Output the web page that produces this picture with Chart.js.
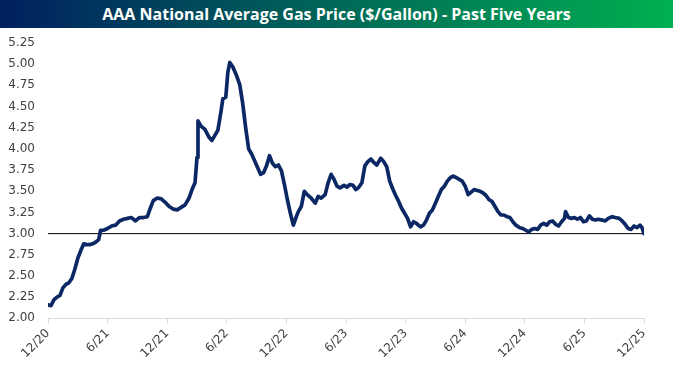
<!DOCTYPE html>
<html>
<head>
<meta charset="utf-8">
<script src="https://cdn.jsdelivr.net/npm/chart.js@4.4.1/dist/chart.umd.min.js"></script>
<style>
    html, body { margin: 0; padding: 0; background: #ffffff; }
    #banner {
        width: 673px;
        height: 28px;
        line-height: 28px;
        background: linear-gradient(to right, #002060 0%, #00b050 100%);
        color: #ffffff;
        text-align: center;
        font-family: "Open Sans", sans-serif;
        font-weight: bold;
        font-size: 16px;
    }
    #wrap { position: relative; width: 673px; height: 348px; }
</style>
</head>
<body>
<div id="banner">AAA National Average Gas Price ($/Gallon) - Past Five Years</div>
<div id="wrap"><canvas id="gasChart"></canvas></div>
<script>
// Meses contados a partir de 12/20
const monthOffset = [
    0, 0.3, 0.6, 0.9, 1.2, 1.5, 1.8, 2.1, 2.4, 2.7, 3.0, 3.3, 3.6, 3.9, 4.2, 4.5, 4.8, 5.1, 5.3, 5.6,
    6.0, 6.4, 6.8, 7.2, 7.6, 8.0, 8.4, 8.8, 9.2, 9.6, 10.0, 10.3, 10.6, 11.0, 11.4, 11.8,
    12.2, 12.6, 13.0, 13.4, 13.8, 14.2, 14.5, 14.8, 15.0, 15.1, 15.4, 15.8, 16.2, 16.5, 16.8, 17.1, 17.4, 17.6, 17.9,
    18.1, 18.3, 18.6, 19.0, 19.3, 19.6, 19.9, 20.2, 20.5, 20.8, 21.1, 21.4, 21.7, 22.0, 22.3, 22.6, 22.9, 23.2, 23.5, 23.8,
    24.1, 24.4, 24.7, 25.0, 25.2, 25.5, 25.8, 26.1, 26.5, 26.9, 27.2, 27.5, 27.9, 28.2, 28.5, 28.8, 29.1, 29.4, 29.8,
    30.1, 30.4, 30.7, 31.0, 31.3, 31.6, 31.9, 32.2, 32.5, 32.8, 33.1, 33.5, 33.8, 34.1, 34.4, 34.7, 35.0, 35.3, 35.6, 35.9,
    36.2, 36.5, 36.8, 37.1, 37.5, 37.8, 38.1, 38.4, 38.7, 39.0, 39.3, 39.6, 39.9, 40.2, 40.5, 40.8, 41.1, 41.4, 41.7,
    42.0, 42.3, 42.6, 42.9, 43.2, 43.5, 43.8, 44.1, 44.4, 44.7, 45.0, 45.3, 45.6, 45.9, 46.2, 46.5, 46.8, 47.1, 47.5, 47.8,
    48.1, 48.4, 48.7, 49.0, 49.3, 49.6, 49.9, 50.2, 50.5, 50.8, 51.1, 51.4, 51.7, 52.0, 52.1, 52.4, 52.7, 53.0, 53.3, 53.6, 53.9,
    54.2, 54.5, 54.8, 55.1, 55.4, 55.8, 56.1, 56.4, 56.8, 57.1, 57.5, 57.8, 58.1, 58.4, 58.7, 59.0, 59.3, 59.6, 59.8, 60.0
];

// Preço médio (US$/galão)
const gasPrice = [
    2.16, 2.15, 2.22, 2.25, 2.27, 2.36, 2.40, 2.42, 2.47, 2.58, 2.71, 2.80, 2.88, 2.87, 2.87, 2.88, 2.90, 2.93, 3.04, 3.04,
    3.06, 3.09, 3.10, 3.15, 3.17, 3.18, 3.19, 3.15, 3.19, 3.19, 3.20, 3.30, 3.39, 3.42, 3.41, 3.37,
    3.32, 3.29, 3.28, 3.31, 3.34, 3.42, 3.52, 3.60, 3.90, 4.33, 4.27, 4.23, 4.14, 4.10, 4.16, 4.22, 4.43, 4.59, 4.61,
    4.90, 5.02, 4.97, 4.86, 4.76, 4.54, 4.25, 4.00, 3.94, 3.86, 3.78, 3.70, 3.72, 3.80, 3.92, 3.83, 3.79, 3.81, 3.74, 3.58,
    3.40, 3.24, 3.10, 3.20, 3.26, 3.32, 3.50, 3.46, 3.42, 3.36, 3.44, 3.42, 3.46, 3.60, 3.70, 3.64, 3.56, 3.54, 3.57,
    3.55, 3.58, 3.57, 3.52, 3.55, 3.60, 3.80, 3.85, 3.88, 3.84, 3.81, 3.89, 3.85, 3.79, 3.62, 3.53, 3.45, 3.38, 3.30, 3.24,
    3.18, 3.08, 3.14, 3.12, 3.08, 3.10, 3.16, 3.24, 3.28, 3.36, 3.44, 3.52, 3.56, 3.62, 3.66, 3.68, 3.66, 3.64, 3.62,
    3.56, 3.46, 3.49, 3.52, 3.51, 3.50, 3.48, 3.45, 3.40, 3.38, 3.32, 3.26, 3.22, 3.22, 3.20, 3.19, 3.14, 3.10, 3.07, 3.06,
    3.04, 3.02, 3.05, 3.06, 3.05, 3.10, 3.12, 3.10, 3.14, 3.15, 3.11, 3.09, 3.14, 3.18, 3.26, 3.19, 3.18, 3.19, 3.17, 3.19, 3.14,
    3.15, 3.21, 3.17, 3.16, 3.17, 3.16, 3.15, 3.18, 3.20, 3.19, 3.18, 3.15, 3.11, 3.06, 3.05, 3.09, 3.07, 3.10, 3.07, 3.00
];

// Rótulos do eixo X (a cada 6 meses)
const tickLabels = ['12/20', '6/21', '12/21', '6/22', '12/22', '6/23', '12/23', '6/24', '12/24', '6/25', '12/25'];

// Linha de referência
const referenceLevel = 3.00;

document.addEventListener('DOMContentLoaded', function() {
    createGasChart();
});

function createGasChart() {
    const ctx = document.getElementById('gasChart');
    if (!ctx) return;

    const points = monthOffset.map((m, i) => ({ x: m, y: gasPrice[i] }));
    const refLine = [
        { x: monthOffset[0], y: referenceLevel },
        { x: monthOffset[monthOffset.length - 1], y: referenceLevel }
    ];

    new Chart(ctx, {
        type: 'line',
        data: {
            datasets: [{
                data: refLine,
                borderColor: '#000000',
                borderWidth: 1,
                pointRadius: 0,
                order: 2
            }, {
                data: points,
                borderColor: '#0b2865',
                borderWidth: 3.7,
                pointRadius: 0,
                tension: 0,
                borderJoinStyle: 'round',
                borderCapStyle: 'round',
                order: 1
            }]
        },
        options: {
            responsive: true,
            maintainAspectRatio: false,
            animation: false,
            layout: {
                padding: { top: 15, right: 29, left: 8, bottom: 12 }
            },
            plugins: {
                legend: { display: false },
                tooltip: { enabled: false }
            },
            scales: {
                x: {
                    type: 'linear',
                    min: 0,
                    max: 60,
                    grid: {
                        drawOnChartArea: false,
                        drawTicks: true,
                        tickLength: 5,
                        color: '#d9d9d9'
                    },
                    border: { display: true, color: '#d9d9d9' },
                    ticks: {
                        stepSize: 6,
                        maxRotation: 45,
                        minRotation: 45,
                        color: '#404040',
                        font: { family: 'DejaVu Sans', size: 12 },
                        callback: function(value) {
                            return tickLabels[Math.round(value / 6)];
                        }
                    },
                    afterFit: function(scale) {
                        // rótulo inclinado não deve empurrar a área do gráfico
                        scale.paddingLeft = 0;
                        scale.paddingRight = 0;
                    }
                },
                y: {
                    min: 2,
                    max: 5.25,
                    grid: { display: false, drawTicks: false },
                    border: { display: false },
                    ticks: {
                        stepSize: 0.25,
                        color: '#404040',
                        padding: 13,
                        font: { family: 'DejaVu Sans', size: 12 },
                        callback: function(value) {
                            return value.toFixed(2);
                        }
                    },
                    afterFit: function(scale) {
                        scale.width = 40;
                        scale.paddingTop = 0;
                        scale.paddingBottom = 0;
                    }
                }
            }
        }
    });
}
</script>
</body>
</html>
